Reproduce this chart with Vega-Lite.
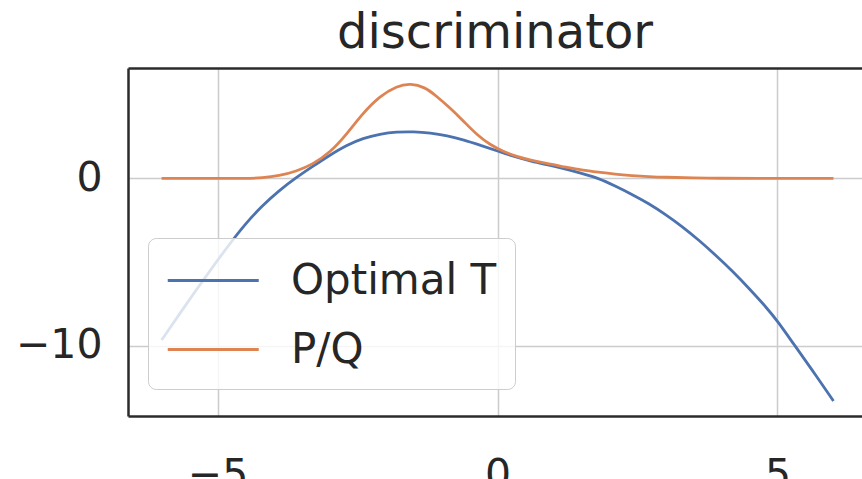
{
  "$schema": "https://vega.github.io/schema/vega-lite/v6.json",
  "width": 734,
  "height": 348,
  "autosize": {"type": "none"},
  "padding": {"left": 128, "top": 68, "right": 0, "bottom": 63},
  "background": "white",
  "title": {"text": "discriminator", "fontSize": 48, "font": "DejaVu Sans", "fontWeight": "normal", "color": "#262626", "offset": 10, "anchor": "middle"},
  "config": {
    "view": {"stroke": null},
    "axis": {"labelFont": "DejaVu Sans", "labelFontSize": 41, "labelColor": "#262626", "ticks": false, "gridColor": "#cccccc", "gridWidth": 1.5, "domainColor": "#2b2b2b", "domainWidth": 2.5, "title": null}
  },
  "data": {"values": [
    {"series": "Optimal T", "x": -6.0, "y": -9.66},
    {"series": "Optimal T", "x": -5.7, "y": -8.2},
    {"series": "Optimal T", "x": -5.4, "y": -6.75},
    {"series": "Optimal T", "x": -5.1, "y": -5.35},
    {"series": "Optimal T", "x": -4.8, "y": -3.98},
    {"series": "Optimal T", "x": -4.5, "y": -2.7},
    {"series": "Optimal T", "x": -4.2, "y": -1.62},
    {"series": "Optimal T", "x": -3.9, "y": -0.72},
    {"series": "Optimal T", "x": -3.6, "y": 0.04},
    {"series": "Optimal T", "x": -3.3, "y": 0.72},
    {"series": "Optimal T", "x": -3.0, "y": 1.38},
    {"series": "Optimal T", "x": -2.7, "y": 1.98},
    {"series": "Optimal T", "x": -2.4, "y": 2.41},
    {"series": "Optimal T", "x": -2.1, "y": 2.65},
    {"series": "Optimal T", "x": -1.8, "y": 2.78},
    {"series": "Optimal T", "x": -1.5, "y": 2.8},
    {"series": "Optimal T", "x": -1.2, "y": 2.72},
    {"series": "Optimal T", "x": -0.9, "y": 2.55},
    {"series": "Optimal T", "x": -0.6, "y": 2.3},
    {"series": "Optimal T", "x": -0.3, "y": 1.97},
    {"series": "Optimal T", "x": 0.0, "y": 1.64},
    {"series": "Optimal T", "x": 0.3, "y": 1.3},
    {"series": "Optimal T", "x": 0.6, "y": 1.03},
    {"series": "Optimal T", "x": 0.9, "y": 0.81},
    {"series": "Optimal T", "x": 1.2, "y": 0.58},
    {"series": "Optimal T", "x": 1.5, "y": 0.31},
    {"series": "Optimal T", "x": 1.8, "y": 0.02},
    {"series": "Optimal T", "x": 2.1, "y": -0.45},
    {"series": "Optimal T", "x": 2.4, "y": -0.95},
    {"series": "Optimal T", "x": 2.7, "y": -1.5},
    {"series": "Optimal T", "x": 3.0, "y": -2.15},
    {"series": "Optimal T", "x": 3.3, "y": -2.88},
    {"series": "Optimal T", "x": 3.6, "y": -3.7},
    {"series": "Optimal T", "x": 3.9, "y": -4.6},
    {"series": "Optimal T", "x": 4.2, "y": -5.55},
    {"series": "Optimal T", "x": 4.5, "y": -6.6},
    {"series": "Optimal T", "x": 4.8, "y": -7.7},
    {"series": "Optimal T", "x": 5.0, "y": -8.52},
    {"series": "Optimal T", "x": 5.3, "y": -9.95},
    {"series": "Optimal T", "x": 5.6, "y": -11.35},
    {"series": "Optimal T", "x": 6.0, "y": -13.3},
    {"series": "P/Q", "x": -6.0, "y": 0.0},
    {"series": "P/Q", "x": -5.0, "y": 0.0},
    {"series": "P/Q", "x": -4.5, "y": 0.0},
    {"series": "P/Q", "x": -4.2, "y": 0.03},
    {"series": "P/Q", "x": -3.9, "y": 0.15},
    {"series": "P/Q", "x": -3.6, "y": 0.42},
    {"series": "P/Q", "x": -3.3, "y": 0.84},
    {"series": "P/Q", "x": -3.0, "y": 1.52},
    {"series": "P/Q", "x": -2.7, "y": 2.62},
    {"series": "P/Q", "x": -2.4, "y": 3.92},
    {"series": "P/Q", "x": -2.1, "y": 4.92},
    {"series": "P/Q", "x": -1.8, "y": 5.53},
    {"series": "P/Q", "x": -1.55, "y": 5.68},
    {"series": "P/Q", "x": -1.3, "y": 5.46},
    {"series": "P/Q", "x": -1.1, "y": 4.95},
    {"series": "P/Q", "x": -0.85, "y": 4.22},
    {"series": "P/Q", "x": -0.6, "y": 3.4},
    {"series": "P/Q", "x": -0.37, "y": 2.61},
    {"series": "P/Q", "x": -0.13, "y": 2.01},
    {"series": "P/Q", "x": 0.1, "y": 1.61},
    {"series": "P/Q", "x": 0.35, "y": 1.3},
    {"series": "P/Q", "x": 0.58, "y": 1.1},
    {"series": "P/Q", "x": 0.9, "y": 0.87},
    {"series": "P/Q", "x": 1.2, "y": 0.69},
    {"series": "P/Q", "x": 1.5, "y": 0.5},
    {"series": "P/Q", "x": 1.8, "y": 0.37},
    {"series": "P/Q", "x": 2.1, "y": 0.25},
    {"series": "P/Q", "x": 2.4, "y": 0.17},
    {"series": "P/Q", "x": 2.7, "y": 0.11},
    {"series": "P/Q", "x": 3.0, "y": 0.07},
    {"series": "P/Q", "x": 3.5, "y": 0.03},
    {"series": "P/Q", "x": 4.0, "y": 0.01},
    {"series": "P/Q", "x": 4.5, "y": 0.0},
    {"series": "P/Q", "x": 6.0, "y": 0.0}
  ]},
  "layer": [
    {
      "mark": {"type": "line", "strokeWidth": 2.8, "interpolate": "basis"},
      "encoding": {
        "x": {"field": "x", "type": "quantitative", "scale": {"domain": [-6.6, 6.51], "nice": false, "zero": false}, "axis": {"orient": "bottom", "values": [-5, 0, 5], "labelPadding": 39, "format": "d"}},
        "y": {"field": "y", "type": "quantitative", "scale": {"domain": [-14.2, 6.6], "nice": false, "zero": false}, "axis": {"values": [-10, 0], "labelPadding": 26, "format": "d"}},
        "color": {"field": "series", "type": "nominal", "scale": {"domain": ["Optimal T", "P/Q"], "range": ["#4c72b0", "#dd8452"]},
          "legend": {"title": null, "orient": "none", "legendX": 20, "legendY": 170, "symbolType": "M-1,0H3", "symbolSize": 2070, "symbolStrokeWidth": 3, "symbolFillColor": "transparent", "labelFontSize": 42, "labelFont": "DejaVu Sans", "labelColor": "#262626", "labelOffset": 76, "labelLimit": 400, "padding": 18, "rowPadding": 23, "strokeColor": "#cccccc", "fillColor": "rgba(255,255,255,0.8)", "cornerRadius": 8}}
      }
    },
    {
      "mark": {"type": "line", "opacity": 0},
      "encoding": {
        "x": {"field": "x", "type": "quantitative", "axis": {"orient": "top", "labels": false, "ticks": false, "grid": false, "domain": true}},
        "y": {"field": "y", "type": "quantitative"},
        "detail": {"field": "series", "type": "nominal"}
      }
    }
  ],
  "resolve": {"axis": {"x": "independent"}}
}
